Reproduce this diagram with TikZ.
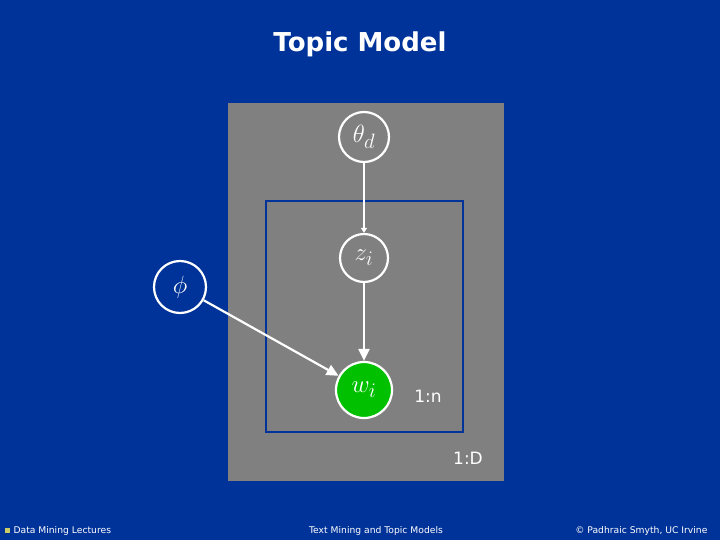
\documentclass[tikz,border=0pt]{standalone}
\usepackage{fontspec}
\setsansfont{DejaVu Sans}
\usepackage{amsmath}
\usetikzlibrary{arrows.meta}
\definecolor{slideblue}{RGB}{0,51,153}
\definecolor{plategray}{RGB}{128,128,128}
\definecolor{obsgreen}{RGB}{0,192,0}
\definecolor{bullet}{RGB}{204,204,102}

\begin{document}
\begin{tikzpicture}[x=1pt,y=-1pt,
  var/.style={circle, draw=white, line width=2.2pt, minimum size=50pt, inner sep=0pt, text=white, font=\fontsize{28}{28}\selectfont},
  edge/.style={draw=white, line width=2.2pt, -{Triangle[length=12pt,width=11pt]}},
  platelabel/.style={text=white, font=\sffamily\fontsize{17}{17}\selectfont},
  foot/.style={text=white, font=\sffamily\fontsize{9.2}{9.2}\selectfont}]
	 % background of the slide
	 \fill[slideblue] (0,0) rectangle (720,540);
	 \useasboundingbox (0,0) rectangle (720,540);
	 \node[text=white, font=\sffamily\bfseries\fontsize{26}{26}\selectfont] (title) at (360,44) {Topic Model};
	 % outer plate (documents) and inner plate (words)
	 \fill[plategray] (228,103) rectangle (504,481);
	 \draw[slideblue, line width=1.5pt] (266,201) rectangle (463,432);
	 \node[platelabel] (n) at (428,396) {1:n};
	 \node[platelabel] (D) at (468,458) {1:D};
	 % the variables
	 \node[var] (theta) at (364,137) {$\theta_d$};
	 \node[var, minimum size=48pt] (z) at (364,258) {$z_i$};
	 \node[var, minimum size=52pt] (phi) at (180,287) {$\phi$};
	 \node[var, fill=obsgreen, minimum size=56pt] (w) at (364,390) {$w_i$};
	 % the edges
	 \draw[draw=white, line width=2.2pt, -{Triangle[length=5pt,width=6pt]}] (theta) -- (z);
	 \draw[edge] (z) -- (w);
	 \draw[edge] (phi) -- (w);
	 % footer
	 \fill[bullet] (5,528) rectangle (10,533);
	 \node[foot, anchor=west] (lect) at (10,531) {Data Mining Lectures};
	 \node[foot] (topic) at (376,531) {Text Mining and Topic Models};
	 \node[foot, anchor=east] (copy) at (711,531) {© Padhraic Smyth, UC Irvine};
\end{tikzpicture}
\end{document}
